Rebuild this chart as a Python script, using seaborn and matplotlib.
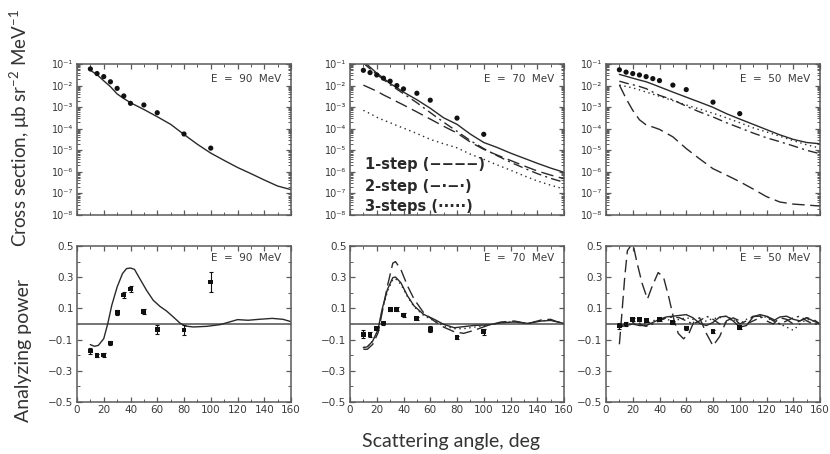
import numpy as np
import pandas as pd
import matplotlib
matplotlib.use("Agg")
import matplotlib.pyplot as plt
import seaborn as sns
from matplotlib.ticker import (MultipleLocator, LogLocator, NullFormatter,
                               FixedLocator)

sns.set_theme(style="ticks")
plt.rcParams["font.family"] = ["DejaVu Sans"]
plt.rcParams["mathtext.default"] = "regular"

# ---------------- data ----------------
energies = [90, 70, 50]

# measured cross sections (ub sr^-2 MeV^-1)
cs_exp_angles = [10, 15, 20, 25, 30, 35, 40, 50, 60, 80, 100]
cs_exp_90 = [5.9e-2, 3.6e-2, 2.6e-2, 1.5e-2, 7.4e-3, 3.3e-3, 1.5e-3, 1.26e-3, 5.5e-4, 5.7e-5, 1.26e-5]
cs_exp_70 = [5.1e-2, 4.0e-2, 3.1e-2, 2.2e-2, 1.6e-2, 1.0e-2, 7.0e-3, 4.4e-3, 2.1e-3, 3.1e-4, 5.5e-5]
cs_exp_50 = [5.4e-2, 4.2e-2, 3.6e-2, 3.1e-2, 2.6e-2, 2.1e-2, 1.7e-2, 1.05e-2, 6.5e-3, 1.7e-3, 5.0e-4]

# calculated cross sections
cs_angles = [10, 15, 20, 25, 30, 35, 40, 50, 60, 70, 80, 90, 100, 110, 120, 130, 140, 150, 160]
cs_total_90 = [5.1e-2, 3.2e-2, 1.66e-2, 8.9e-3, 4.1e-3, 2.5e-3, 1.6e-3, 7.8e-4, 3.6e-4, 1.6e-4,
               5.4e-5, 1.9e-5, 7.4e-6, 3.4e-6, 1.6e-6, 8.3e-7, 4.2e-7, 2.2e-7, 1.5e-7]
cs_total_70 = [1.4e-1, 7.1e-2, 3.8e-2, 2.2e-2, 1.26e-2, 7.9e-3, 5.0e-3, 2.2e-3, 8.9e-4, 3.2e-4,
               1.6e-4, 5.6e-5, 2.3e-5, 1.35e-5, 7.4e-6, 4.3e-6, 2.5e-6, 1.5e-6, 9.5e-7]
cs_step1_70 = [1.05e-2, 7.6e-3, 5.5e-3, 3.7e-3, 2.6e-3, 1.8e-3, 1.26e-3, 6.0e-4, 2.8e-4, 1.3e-4,
               6.3e-5, 2.4e-5, 1.1e-5, 6.0e-6, 3.4e-6, 1.9e-6, 1.1e-6, 7.1e-7, 4.8e-7]
cs_step2_70 = [1.1e-1, 6.0e-2, 3.3e-2, 1.9e-2, 1.1e-2, 6.8e-3, 4.2e-3, 1.6e-3, 5.6e-4, 2.0e-4,
               7.6e-5, 2.8e-5, 1.2e-5, 5.6e-6, 2.8e-6, 1.5e-6, 8.3e-7, 5.0e-7, 3.3e-7]
cs_step3_70 = [7.1e-4, 5.0e-4, 3.4e-4, 2.5e-4, 1.9e-4, 1.4e-4, 1.07e-4, 6.0e-5, 3.2e-5, 2.0e-5,
               1.3e-5, 6.6e-6, 3.8e-6, 2.1e-6, 1.2e-6, 6.6e-7, 3.8e-7, 2.4e-7, 1.6e-7]
cs_total_50 = [3.3e-2, 2.7e-2, 2.2e-2, 1.8e-2, 1.5e-2, 1.15e-2, 8.7e-3, 5.0e-3, 2.9e-3, 1.7e-3,
               9.8e-4, 5.0e-4, 2.8e-4, 1.6e-4, 9.1e-5, 5.2e-5, 3.2e-5, 2.3e-5, 2.0e-5]
cs_step1_50 = [1.07e-2, 2.5e-3, 7.1e-4, 2.6e-4, 1.5e-4, 1.2e-4, 9.3e-5, 4.2e-5, 1.2e-5, 4.0e-6,
               1.4e-6, 7.1e-7, 3.5e-7, 1.6e-7, 7.1e-8, 4.0e-8, 3.2e-8, 2.9e-8, 2.6e-8]
cs_step2_50 = [1.6e-2, 1.3e-2, 1.1e-2, 9.1e-3, 7.2e-3, 5.0e-3, 3.5e-3, 2.2e-3, 1.1e-3, 6.0e-4,
               3.5e-4, 1.9e-4, 1.1e-4, 6.3e-5, 3.8e-5, 2.5e-5, 1.6e-5, 1.0e-5, 6.9e-6]
cs_step3_50 = [1.05e-2, 9.1e-3, 7.8e-3, 6.3e-3, 5.0e-3, 4.0e-3, 3.2e-3, 2.0e-3, 1.26e-3, 8.1e-4,
               5.2e-4, 3.2e-4, 1.9e-4, 1.1e-4, 7.1e-5, 4.5e-5, 2.8e-5, 1.8e-5, 1.26e-5]

# measured analyzing powers
ay_exp_angles = [10, 15, 20, 25, 30, 35, 40, 50, 60, 80, 100]
ay_exp_90 = [-0.173, -0.203, -0.199, -0.122, 0.073, 0.186, 0.224, 0.081, -0.034, -0.038, 0.269]
ay_err_90 = [0.02, 0.01, 0.01, 0.012, 0.015, 0.02, 0.02, 0.015, 0.03, 0.03, 0.065]
ay_exp_70 = [-0.066, -0.066, -0.028, 0.006, 0.094, 0.094, 0.058, 0.036, -0.034, -0.088, -0.049]
ay_err_70 = [0.025, 0.015, 0.01, 0.01, 0.012, 0.012, 0.01, 0.01, 0.018, 0.01, 0.02]
ay_exp_angles_50 = [10, 15, 20, 25, 30, 40, 50, 60, 80, 100]
ay_exp_50 = [-0.013, 0.0, 0.028, 0.028, 0.021, 0.028, 0.009, -0.026, -0.047, -0.021]
ay_err_50 = [0.02, 0.01, 0.008, 0.008, 0.008, 0.008, 0.008, 0.01, 0.01, 0.01]

# calculated analyzing powers
ay_angles_90 = [10, 13, 16, 20, 23, 26, 30, 34, 37, 40, 43, 47, 52, 57, 62, 67, 72, 77, 81,
                87, 97, 107, 114, 120, 128, 136, 146, 154, 160]
ay_total_90 = [-0.132, -0.143, -0.137, -0.094, 0.002, 0.12, 0.237, 0.323, 0.355, 0.359, 0.35,
               0.29, 0.216, 0.152, 0.113, 0.083, 0.045, 0.006, -0.013, -0.019, -0.015, -0.004,
               0.013, 0.028, 0.024, 0.03, 0.036, 0.03, 0.015]

ay_angles_70 = [10, 13, 17, 21, 24, 28, 32, 34, 38, 43, 48, 55, 63, 70, 78, 85, 93, 103, 113,
                123, 133, 143, 150, 160]
ay_total_70 = [-0.152, -0.146, -0.109, -0.034, 0.094, 0.222, 0.297, 0.301, 0.265, 0.18, 0.115,
               0.062, 0.03, -0.002, -0.024, -0.017, -0.009, -0.006, 0.008, 0.013, 0.004, 0.019,
               0.023, 0.004]
ay_step1_70 = [-0.162, -0.162, -0.13, -0.056, 0.073, 0.244, 0.39, 0.40, 0.35, 0.244, 0.158,
               0.073, 0.019, -0.02, -0.05, -0.06, -0.04, -0.009, 0.013, 0.019, 0.002, 0.026,
               0.03, -0.002]
ay_step3_70 = [-0.15, -0.145, -0.11, -0.04, 0.085, 0.21, 0.285, 0.29, 0.255, 0.175, 0.11,
               0.055, 0.02, -0.012, -0.03, -0.03, -0.02, -0.008, 0.01, 0.014, 0.004, 0.02,
               0.025, 0.004]

ay_angles_50_step1 = [10, 12, 14, 16, 20, 23, 27, 31, 34, 39, 43, 47, 51, 54, 58, 62, 66, 70,
                      75, 80, 85, 90, 95, 100, 105, 110, 115, 120, 125, 130, 135, 140, 145,
                      150, 155, 160]
ay_step1_50 = [-0.13, 0.08, 0.30, 0.47, 0.52, 0.40, 0.26, 0.16, 0.23, 0.33, 0.30, 0.17, 0.02,
               -0.06, -0.095, -0.06, 0.02, 0.04, -0.06, -0.14, -0.08, 0.02, 0.04, 0.0, 0.02,
               0.05, 0.05, 0.02, 0.0, 0.04, 0.03, 0.0, 0.02, 0.04, 0.03, 0.0]
ay_angles_50 = [10, 15, 20, 25, 30, 35, 40, 45, 50, 55, 60, 65, 70, 75, 80, 85, 90, 95, 100,
                105, 110, 115, 120, 125, 130, 135, 140, 145, 150, 155, 160]
ay_total_50 = [-0.02, -0.01, 0.0, -0.01, -0.01, 0.01, 0.03, 0.045, 0.05, 0.055, 0.06, 0.04,
               0.005, -0.01, 0.01, 0.045, 0.05, 0.02, -0.02, -0.01, 0.045, 0.06, 0.05, 0.02,
               0.045, 0.05, 0.03, 0.02, 0.04, 0.02, 0.0]
ay_step2_50 = [-0.02, 0.005, 0.01, 0.0, -0.015, 0.0, 0.02, 0.04, 0.045, 0.04, 0.02, 0.0, 0.02,
               0.05, 0.03, 0.0, 0.01, 0.04, 0.02, 0.0, 0.02, 0.04, 0.05, 0.03, 0.0, 0.02, 0.04,
               0.05, 0.02, 0.0, 0.0]
ay_step3_50 = [-0.01, 0.0, 0.0, 0.005, 0.0, 0.02, 0.035, 0.03, 0.02, 0.03, 0.04, 0.03, 0.0,
               0.02, 0.035, 0.04, 0.05, 0.03, 0.0, 0.03, 0.04, 0.06, 0.04, 0.02, 0.0, -0.02,
               -0.04, 0.0, 0.03, 0.02, 0.0]

legend_lines = ["1-step (\u2212\u2212\u2212\u2212)", "2-step (\u2212\u00b7\u2212\u00b7)",
                "3-steps (\u00b7\u00b7\u00b7\u00b7\u00b7)"]

# ---------------- styles ----------------
LINE_C = "#2a2a2a"
FRAME_C = "#5a5a5a"
TEXT_C = "#3a3a3a"
STYLES = {
    "total": "-",
    "step1": (0, (9, 4)),
    "step2": (0, (7, 3, 1.5, 3)),
    "step3": (0, (1, 2.6)),
}

cs_curves = {
    90: [("total", cs_angles, cs_total_90)],
    70: [("total", cs_angles, cs_total_70), ("step1", cs_angles, cs_step1_70),
         ("step2", cs_angles, cs_step2_70), ("step3", cs_angles, cs_step3_70)],
    50: [("total", cs_angles, cs_total_50), ("step1", cs_angles, cs_step1_50),
         ("step2", cs_angles, cs_step2_50), ("step3", cs_angles, cs_step3_50)],
}
cs_points = {90: cs_exp_90, 70: cs_exp_70, 50: cs_exp_50}

ay_curves = {
    90: [("total", ay_angles_90, ay_total_90)],
    70: [("total", ay_angles_70, ay_total_70), ("step1", ay_angles_70, ay_step1_70),
         ("step3", ay_angles_70, ay_step3_70)],
    50: [("total", ay_angles_50, ay_total_50), ("step1", ay_angles_50_step1, ay_step1_50),
         ("step2", ay_angles_50, ay_step2_50), ("step3", ay_angles_50, ay_step3_50)],
}
ay_points = {90: (ay_exp_angles, ay_exp_90, ay_err_90),
             70: (ay_exp_angles, ay_exp_70, ay_err_70),
             50: (ay_exp_angles_50, ay_exp_50, ay_err_50)}

SUP = str.maketrans("-0123456789", "\u207b\u2070\u00b9\u00b2\u00b3\u2074\u2075\u2076\u2077\u2078\u2079")


def decade_label(v, pos):
    return "10" + str(int(round(np.log10(v)))).translate(SUP)


# ---------------- figure ----------------
W, H = 830, 454
fig = plt.figure(figsize=(W / 100, H / 100), dpi=100)
fig.patch.set_facecolor("white")
col_left = [77, 350, 606]
panel_w = 214


def frame(ax):
    for s in ax.spines.values():
        s.set_color(FRAME_C)
        s.set_linewidth(1.1)
    ax.set_facecolor("white")
    ax.tick_params(which="both", direction="in", top=True, right=True,
                   color=FRAME_C, labelcolor=TEXT_C, labelsize=7.5, pad=2.5)
    ax.tick_params(which="major", length=3.5, width=0.9)
    ax.tick_params(which="minor", length=2.0, width=0.7)
    ax.set_xlim(0, 160)
    ax.xaxis.set_major_locator(MultipleLocator(20))
    ax.xaxis.set_minor_locator(MultipleLocator(10))
    ax.set_xlabel("")
    ax.set_ylabel("")


for j, E in enumerate(energies):
    x0 = col_left[j] / W
    ax_cs = fig.add_axes([x0, (H - 215) / H, panel_w / W, 151 / H])
    ax_ay = fig.add_axes([x0, (H - 402) / H, panel_w / W, 156 / H])

    # cross sections
    for kind, xs, ys in cs_curves[E]:
        sns.lineplot(x=xs, y=ys, ax=ax_cs, color=LINE_C, lw=1.0,
                     linestyle=STYLES[kind], estimator=None, sort=False)
    sns.scatterplot(x=cs_exp_angles, y=cs_points[E], ax=ax_cs, color="#111111",
                    s=14, marker="o", edgecolor="none", zorder=5)
    ax_cs.set_yscale("log")
    ax_cs.set_ylim(1e-8, 1e-1)
    ax_cs.yaxis.set_major_locator(LogLocator(base=10, numticks=12))
    ax_cs.yaxis.set_minor_locator(LogLocator(base=10, subs=np.arange(2, 10), numticks=12))
    ax_cs.yaxis.set_major_formatter(decade_label)
    ax_cs.yaxis.set_minor_formatter(NullFormatter())
    frame(ax_cs)
    ax_cs.xaxis.set_major_formatter(NullFormatter())
    ax_cs.tick_params(axis="x", labelbottom=False)
    ax_cs.tick_params(axis="y", labelsize=7)
    ax_cs.text(0.955, 0.90, f"E  =  {E}  MeV", transform=ax_cs.transAxes,
               ha="right", va="center", fontsize=7.5, color=TEXT_C)

    # analyzing powers
    ax_ay.axhline(0, color="#6a6a6a", lw=1.3, zorder=1)
    for kind, xs, ys in ay_curves[E]:
        sns.lineplot(x=xs, y=ys, ax=ax_ay, color=LINE_C, lw=1.0,
                     linestyle=STYLES[kind], estimator=None, sort=False)
    px, py, pe = ay_points[E]
    ax_ay.errorbar(px, py, yerr=pe, fmt="none", ecolor="#111111",
                   elinewidth=0.8, capsize=1.6, capthick=0.8, zorder=4)
    sns.scatterplot(x=px, y=py, ax=ax_ay, color="#111111", s=12, marker="s",
                    edgecolor="none", zorder=5)
    ax_ay.set_ylim(-0.5, 0.5)
    ax_ay.yaxis.set_major_locator(FixedLocator([-0.5, -0.3, -0.1, 0.1, 0.3, 0.5]))
    ax_ay.yaxis.set_minor_locator(MultipleLocator(0.1))
    ax_ay.yaxis.set_major_formatter(lambda v, p: f"{v:.1f}".replace("-", "\u2212"))
    frame(ax_ay)
    ax_ay.text(0.955, 0.925, f"E  =  {E}  MeV", transform=ax_ay.transAxes,
               ha="right", va="center", fontsize=7.5, color=TEXT_C)

# legend for the reaction-step curves
for k, label in enumerate(legend_lines):
    fig.text(365 / W, 1 - (165 + 21 * k) / H, label, ha="left", va="center",
             fontsize=10.5, fontweight="bold", color="#2a2a2a",
             family=["DejaVu Sans"])

label_font = ["Lato", "DejaVu Sans"]
fig.text(20 / W, 1 - 128 / H, "Cross section, \u03bcb sr$^{-2}$ MeV$^{-1}$", rotation=90,
         ha="center", va="center", fontsize=13.5, color="#333333", family=label_font)
fig.text(24 / W, 1 - 350 / H, "Analyzing power", rotation=90, ha="center", va="center",
         fontsize=14, color="#333333", family=label_font)
fig.text(451 / W, 1 - 442 / H, "Scattering angle, deg", ha="center", va="center",
         fontsize=14, color="#333333", family=label_font)

fig.savefig("out.png", dpi=100, facecolor="white")
